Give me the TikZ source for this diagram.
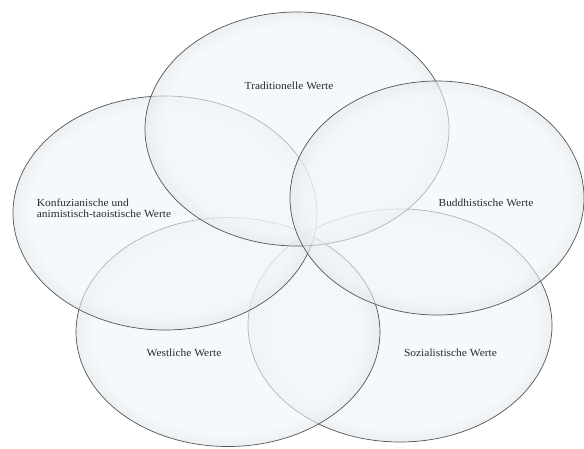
\documentclass[tikz,border=0pt]{standalone}
\usepackage{fontspec}
\setmainfont{Liberation Serif}[FakeStretch=1.06]
\usetikzlibrary{shapes.geometric}
\definecolor{glassin}{HTML}{F1F6FA}
\definecolor{glassrim}{HTML}{E2E7EA}
\definecolor{rimline}{HTML}{555555}
\definecolor{labeltext}{HTML}{2A2A2A}
\pgfdeclareradialshading{glass}{\pgfpoint{0bp}{0bp}}{color(0bp)=(glassin); color(22bp)=(glassin); color(25bp)=(glassrim); color(50bp)=(glassrim)}
\begin{document}
\begin{tikzpicture}[x=1pt,y=-1pt,
  bubble/.style={ellipse, draw=rimline, line width=0.7pt, shading=glass, fill opacity=0.6, draw opacity=1, inner sep=0pt, minimum width=304pt, minimum height=234pt},
  lbl/.style={font=\fontsize{10.8pt}{10.7pt}\selectfont, text=labeltext, inner sep=0pt, text opacity=1}]
\useasboundingbox (0,0) rectangle (584,448);
\fill[white] (0,0) rectangle (584,448);
\node[bubble, minimum height=233pt] (soz) at (400,325.5) {};
\node[bubble, minimum height=229pt] (west) at (228,332) {};
\node[bubble] (konf) at (165,213) {};
\node[bubble] (trad) at (297,129) {};
\node[bubble, minimum width=294pt] (budd) at (437,198) {};
\node[lbl, anchor=base] (tradl) at (289,89.5) {Traditionelle Werte};
\node[lbl, anchor=base west, align=left] (konfl) at (36.7,217.4) {Konfuzianische und\\animistisch-taoistische Werte};
\node[lbl, anchor=base] (buddl) at (486,206) {Buddhistische Werte};
\node[lbl, anchor=base] (westl) at (184,356.5) {Westliche Werte};
\node[lbl, anchor=base] (sozl) at (450.5,356) {Sozialistische Werte};
\end{tikzpicture}
\end{document}
